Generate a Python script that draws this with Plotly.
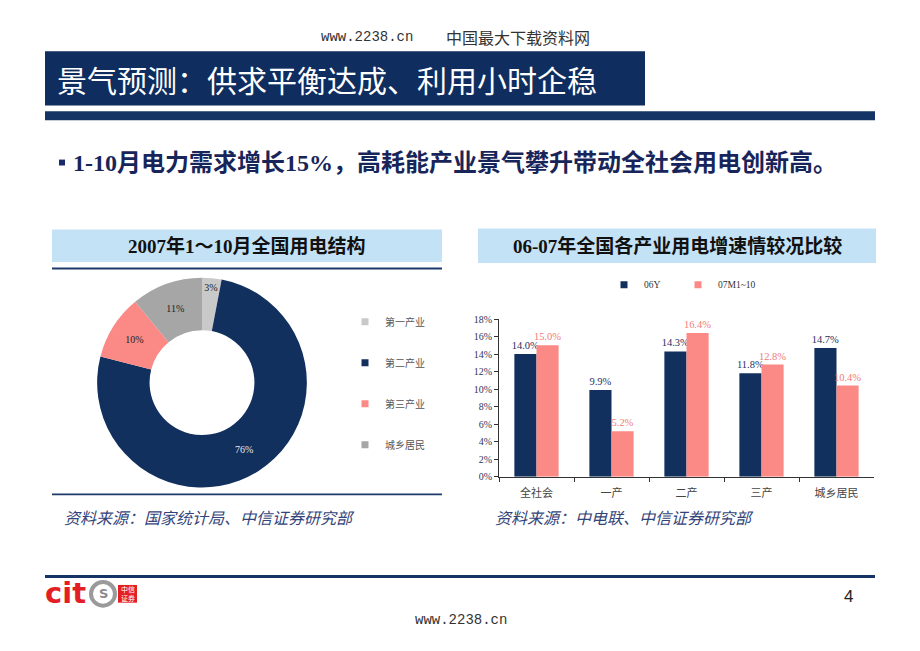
import plotly.graph_objects as go

W, H = 920, 651

def px(x):
    return x / W

def py(y):
    return 1 - y / H

# ---------------- data ----------------
pie_labels = ["第一产业", "第二产业", "第三产业", "城乡居民"]
pie_values = [3, 76, 10, 11]
pie_colors = ["#c9c9c9", "#12305e", "#fb8a86", "#a6a6a6"]
pie_text_colors = ["#222222", "#e6e6e6", "#222222", "#222222"]

bar_categories = ["全社会", "一产", "二产", "三产", "城乡居民"]
series_06 = [14.0, 9.9, 14.3, 11.8, 14.7]
series_07 = [15.0, 5.2, 16.4, 12.8, 10.4]
series_names = ["06Y", "07M1~10"]
series_colors = ["#12305e", "#fb8a86"]
series_text_colors = ["#1f2f5f", "#f07a78"]
y_ticks = [0, 2, 4, 6, 8, 10, 12, 14, 16, 18]
y_tick_labels = [f"{v}%" for v in y_ticks]

SERIF = "Liberation Serif, Noto Sans CJK SC, serif"
CJK = "Noto Sans CJK SC, sans-serif"
NAVY = "#0f2d5e"

fig = go.Figure()

# ---------------- bars ----------------
for name, vals, col, tcol in zip(series_names, [series_06, series_07],
                                 series_colors, series_text_colors):
    fig.add_trace(go.Bar(
        x=bar_categories, y=vals, name=name, marker=dict(color=col, line=dict(width=0)),
        texttemplate="%{y:.1f}%", textposition="outside", cliponaxis=False,
        textfont=dict(family=SERIF, size=10.5, color=tcol),
        showlegend=False,
    ))

# ---------------- donut ----------------
fig.add_trace(go.Pie(
    labels=pie_labels, values=pie_values, hole=0.5, sort=False,
    direction="clockwise", rotation=0,
    marker=dict(colors=pie_colors, line=dict(width=0)),
    texttemplate="%{value}%", textposition="inside",
    insidetextorientation="horizontal",
    textfont=dict(family=SERIF, size=10, color=pie_text_colors),
    domain=dict(x=[px(95.5), px(308.5)], y=[py(490), py(277)]),
    showlegend=False, hoverinfo="label+percent",
))

# legend entries for donut (one per slice)
for lab, col in zip(pie_labels, pie_colors):
    fig.add_trace(go.Scatter(
        x=[None], y=[None], mode="markers", name=lab, legendgroup=lab,
        marker=dict(symbol="square", size=7, color=col),
        legend="legend", showlegend=True, hoverinfo="skip",
    ))

# legend entries for bars (each in its own legend box)
for name, col, lg in zip(series_names, series_colors, ["legend2", "legend3"]):
    fig.add_trace(go.Scatter(
        x=[None], y=[None], mode="markers", name=name,
        marker=dict(symbol="square", size=7, color=col),
        legend=lg, showlegend=True, hoverinfo="skip",
    ))

shapes = []
annotations = []

def rect(x0, y0, x1, y1, color):
    shapes.append(dict(type="rect", xref="paper", yref="paper",
                       x0=px(x0), x1=px(x1), y0=py(y1), y1=py(y0),
                       fillcolor=color, line=dict(width=0), layer="below"))

def text(x, y, s, size, color, family=CJK, xanchor="left", **kw):
    annotations.append(dict(xref="paper", yref="paper", x=px(x), y=py(y), text=s,
                            showarrow=False, xanchor=xanchor, yanchor="middle",
                            font=dict(size=size, color=color, family=family, **kw)))

# top watermark header
text(415, 32, "www.2238.cn", 14, "#333333", family="Liberation Mono, monospace", xanchor="right")
text(444, 32, "中国最大下载资料网", 16, "#333333")

# title banner
rect(45, 47, 645, 102, NAVY)
text(55, 75, "景气预测：供求平衡达成、利用小时企稳", 30, "#ffffff")
rect(45, 108, 875, 117, "#143465")

# bullet line
rect(59, 157, 65, 163, "#1a2a6a")
text(71, 160, "<b>1-10月电力需求增长15%，高耗能产业景气攀升带动全社会用电创新高。</b>",
     24, "#17255a", family=SERIF)

# left panel header
rect(52, 228, 442, 261, "#c4e2f6")
text(247, 244.5, "<b>2007年1～10月全国用电结构</b>", 19, "#111111", family=SERIF, xanchor="center")
rect(52, 266.5, 442, 268.5, "#1d3a6a")
rect(52, 496, 442, 498, "#1d3a6a")
text(62, 520, "资料来源：国家统计局、中信证券研究部", 16, "#33447a", style="italic")

# right panel header
rect(478, 227, 876, 262, "#c4e2f6")
text(677, 244.5, "<b>06-07年全国各产业用电增速情较况比较</b>", 19, "#111111", family=SERIF, xanchor="center")
text(493, 520, "资料来源：中电联、中信证券研究部", 16, "#33447a", style="italic")

# footer
rect(45, 579, 875, 582, "#143465")
text(43, 597, "<b>cit</b>", 29, "#e31e24", family="DejaVu Sans, sans-serif")
shapes.append(dict(type="circle", xref="paper", yref="paper",
                   x0=px(91), x1=px(115), y0=py(610), y1=py(586),
                   line=dict(color="#9a9a9a", width=4)))
text(103, 598, "<b>S</b>", 13, "#8a8a8a", family="DejaVu Sans, sans-serif", xanchor="center")
rect(118, 589, 137, 607, "#e31e24")
text(127.5, 598, "中信<br>证券", 7, "#ffffff", xanchor="center")
text(848, 601, "4", 17, "#222222", family="Liberation Sans, sans-serif", xanchor="center")
text(461, 625, "www.2238.cn", 14, "#333333", family="Liberation Mono, monospace", xanchor="center")

bar_legend_font = dict(family=SERIF, size=9.5, color="#333333")

fig.update_layout(
    width=W, height=H, autosize=False,
    margin=dict(l=0, r=0, t=0, b=0),
    paper_bgcolor="white", plot_bgcolor="rgba(0,0,0,0)",
    bargap=0.41, bargroupgap=0,
    uniformtext=dict(minsize=10, mode="show"),
    shapes=shapes, annotations=annotations,
    xaxis=dict(domain=[px(499), px(874)], anchor="y", type="category",
               categoryorder="array", categoryarray=bar_categories,
               showline=True, linecolor="#333333",
               linewidth=1, ticks="outside", tickson="boundaries", ticklen=4,
               tickcolor="#333333", showgrid=False, fixedrange=True,
               ticklabelstandoff=6,
               tickfont=dict(family=SERIF, size=11, color="#444444")),
    yaxis=dict(domain=[py(479), py(319)], anchor="x", range=[0, 18],
               tickmode="array", tickvals=y_ticks, ticktext=y_tick_labels,
               showline=True, linecolor="#333333", linewidth=1,
               ticks="outside", ticklen=4, tickcolor="#333333", showgrid=False,
               zeroline=False, fixedrange=True,
               tickfont=dict(family=SERIF, size=10, color="#333355")),
    legend=dict(x=px(345), y=py(307), xanchor="left", yanchor="top",
                orientation="v", tracegroupgap=22, itemwidth=30,
                bgcolor="rgba(0,0,0,0)",
                font=dict(family=CJK, size=10, color="#555555")),
    legend2=dict(x=px(604), y=py(284), xanchor="left", yanchor="middle",
                 orientation="h", itemwidth=30, bgcolor="rgba(0,0,0,0)",
                 font=bar_legend_font),
    legend3=dict(x=px(678), y=py(284), xanchor="left", yanchor="middle",
                 orientation="h", itemwidth=30, bgcolor="rgba(0,0,0,0)",
                 font=bar_legend_font),
    showlegend=True,
)

fig.write_html("out.html")
